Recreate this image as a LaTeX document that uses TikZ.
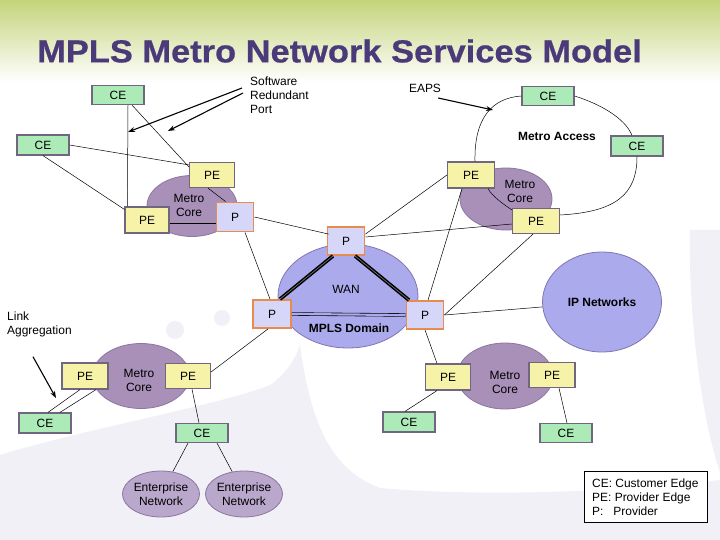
\documentclass[tikz,border=0pt]{standalone}
\usepackage{fontspec}
\setmainfont{Liberation Sans}
\newfontfamily\titlefont[FakeBold=0.6]{Liberation Sans Bold}
\usetikzlibrary{shapes.geometric,arrows.meta,calc}
\definecolor{cefill}{RGB}{172,234,184}
\definecolor{pefill}{RGB}{246,242,168}
\definecolor{pfill}{RGB}{214,214,248}
\definecolor{porange}{RGB}{230,140,80}
\definecolor{boxline}{RGB}{112,102,128}
\definecolor{corefill}{RGB}{168,144,184}
\definecolor{coreline}{RGB}{140,118,160}
\definecolor{wanfill}{RGB}{170,170,236}
\definecolor{wanline}{RGB}{128,116,176}
\definecolor{entfill}{RGB}{186,168,204}
\definecolor{titlecol}{RGB}{74,58,122}
\definecolor{bggreen}{RGB}{196,212,122}
\definecolor{bglav}{RGB}{242,240,247}
\tikzset{
  lbl/.style={font=\fontsize{12}{14}\selectfont, inner sep=0pt},
  ce/.style={lbl, draw=boxline, line width=1.2pt, fill=cefill, minimum width=52bp, minimum height=19bp},
  pe/.style={lbl, draw=boxline, line width=1.2pt, fill=pefill, minimum width=46bp, minimum height=26bp},
  pnode/.style={lbl, draw=porange, line width=1.8pt, fill=pfill, minimum width=37bp, minimum height=28bp},
  core/.style={ellipse, draw=coreline, line width=0.8pt, fill=corefill, inner sep=0pt},
  wan/.style={ellipse, draw=wanline, line width=0.8pt, fill=wanfill, inner sep=0pt},
  ent/.style={ellipse, draw=coreline, line width=0.8pt, fill=entfill, inner sep=0pt, minimum width=66bp, minimum height=46bp, align=center, font=\fontsize{12}{14}\selectfont},
  note/.style={lbl, align=left},
  link/.style={draw=black, line width=0.5pt},
  arr/.style={draw=black, line width=1.1pt, -{Stealth[length=7bp,width=5bp]}},
  trunk/.style={draw=black, line width=1.5pt, double=black!55, double distance=0.7pt},
  dlink/.style={draw=black, line width=0.6pt, double=wanfill, double distance=2.2pt},
}
\begin{document}
\begin{tikzpicture}[x=1bp,y=-1bp]
% background
\useasboundingbox (0,0) rectangle (720,540);
\fill[white] (0,0) rectangle (720,540);
\shade[top color=bggreen, bottom color=white] (0,0) rectangle (720,82);
\fill[bglav] (0,540) -- (0,455) .. controls (80,430) and (220,405) .. (270,385)
   .. controls (285,375) and (295,360) .. (300,345)
   .. controls (310,420) and (330,470) .. (380,488)
   .. controls (480,497) and (620,492) .. (720,480) -- (720,540) -- cycle;
\fill[bglav] (720,230) -- (720,472) .. controls (705,430) and (688,330) .. (690,230) -- cycle;
\fill[bglav] (175,330) circle (9);
\fill[bglav] (222,318) circle (8);

% title
\node[anchor=west, inner sep=0pt, text=titlecol, xscale=1.08, font=\fontsize{32}{36}\selectfont\titlefont] (title) at (37,51) {MPLS Metro Network Services Model};

% ellipses
\node[core, minimum width=90bp, minimum height=61bp] (core1) at (192,206) {};
\node[core, minimum width=92bp, minimum height=62bp] (core2) at (506,199) {};
\node[core, minimum width=97bp, minimum height=65bp] (core3) at (141,376) {};
\node[core, minimum width=96bp, minimum height=66bp] (core4) at (505,376) {};
\node[wan, minimum width=140bp, minimum height=104bp] (wan) at (348,296) {};
\node[wan, minimum width=119bp, minimum height=100bp] (ip) at (602,302) {};
\node[ent] (ent1) at (161,494) {Enterprise\\Network};
\node[ent] (ent2) at (244,494) {Enterprise\\Network};

% texts inside ellipses
\node[note, align=center] (core1t) at (189,205) {Metro\\Core};
\node[note, align=center] (core2t) at (520,191) {Metro\\Core};
\node[note, align=center] (core3t) at (139,380) {Metro\\Core};
\node[note, align=center] (core4t) at (505,382) {Metro\\Core};
\node[lbl] (want) at (346,289) {WAN};
\node[lbl, font=\fontsize{12}{14}\selectfont\bfseries] (mplst) at (349,328) {MPLS Domain};
\node[lbl, font=\fontsize{12}{14}\selectfont\bfseries] (ipt) at (602,302) {IP Networks};
\node[lbl, font=\fontsize{12}{14}\selectfont\bfseries] (acct) at (557,136) {Metro Access};

% boxes
\node[ce] (ce1) at (118,95) {CE};
\node[ce, minimum height=20bp] (ce2) at (43,145) {CE};
\node[ce] (ceTR) at (548,96) {CE};
\node[ce, minimum height=20bp] (ceR) at (637,146) {CE};
\node[ce, minimum height=20bp] (ce3) at (45,423) {CE};
\node[ce] (ce4) at (202,433) {CE};
\node[ce, minimum height=20bp] (ce5) at (409,422) {CE};
\node[ce] (ce6) at (566,433) {CE};

\node[pe, minimum width=45bp, minimum height=25bp] (pet) at (212,175) {PE};
\node[pe, minimum width=44bp] (pel) at (147,220) {PE};
\node[pe, minimum width=47bp] (pe2t) at (471,175) {PE};
\node[pe, minimum width=47bp, minimum height=25bp] (pe2r) at (536,221) {PE};
\node[pe] (pe3l) at (85,376) {PE};
\node[pe, minimum width=45bp, minimum height=25bp] (pe3r) at (188,376) {PE};
\node[pe, minimum width=45bp] (pe4l) at (448,377) {PE};
\node[pe, minimum height=25bp] (pe4r) at (552,375) {PE};

\node[pnode, minimum height=29bp] (pm) at (235,217) {P};
\node[pnode] (ptop) at (346,241) {P};
\node[pnode, minimum width=38bp] (pl) at (272,314) {P};
\node[pnode] (pr) at (425,315) {P};

% legend
\node[draw=black, line width=0.9pt, fill=white, minimum width=123bp, minimum height=51bp, inner sep=0pt] (legend) at (645.5,496.5) {};
\node[note, anchor=west] (legt) at (592,497) {CE: Customer Edge\\PE: Provider Edge\\P:\ \ \ Provider};

% annotations
\node[note, anchor=west] (swt) at (250,95) {Software\\Redundant\\Port};
\node[lbl] (eapst) at (425,88) {EAPS};
\node[note, anchor=west] (lat) at (7,324) {Link\\Aggregation};
\coordinate (sw1) at (128,132);
\coordinate (sw2) at (168,131);
\coordinate (eapsend) at (493,110);
\coordinate (laend) at (56,398);
\draw[arr] ($(swt.west)+(-8,-7)$) -- (sw1);
\draw[arr] ($(swt.west)+(-7,-2)$) -- (sw2);
\draw[arr] ($(eapst.east)+(-3,10)$) -- (eapsend);
\draw[arr] ($(lat.south west)+(26,20)$) -- (laend);

% links, top-left
\draw[link] ($(ce1.south)+(10,0)$) -- ($(pel.north west)+(3,0)$);
\draw[link] ($(ce1.south)+(14,0)$) -- ($(pet.north west)+(0,5)$);
\draw[link] (ce2.east) -- ($(pet.north west)+(0,3)$);
\draw[link] (ce2.south) -- ($(pel.north west)+(0,3)$);
\draw[link] ($(pet.south)+(-4,0)$) -- ($(pm.north west)+(10,0)$);
\draw[link] ($(pel.east)+(0,3)$) -- ($(pm.west)+(0,6)$);
\draw[link] (pm.east) -- ($(ptop.north west)+(2,8)$);
\draw[link] ($(pm.south)+(10,0)$) -- ($(pl.north)+(-2,0)$);

% links, top-right
\draw[link] (pe2t.west) -- ($(ptop.north east)+(0,8)$);
\draw[link] ($(pe2r.west)+(0,3)$) -- ($(ptop.east)+(0,-4)$);
\draw[link] ($(pe2t.south)+(-9,0)$) -- ($(pr.north)+(3,0)$);
\draw[link] ($(pe2r.south)+(-3,0)$) -- (pr.east);
\draw[link] (pr.east) -- (ip);

% metro access ring
\draw[link] (ceTR.west) .. controls (492,98) and (474,118) .. ($(pe2t.north)+(4,0)$);
\draw[link] (ceTR.east) .. controls (600,104) and (625,118) .. ($(ceR.north)+(-5,0)$);
\draw[link] (ceR.south) .. controls (637,195) and (615,212) .. ($(pe2r.east)+(0,-6)$);
\draw[link] ($(pe2t.south)+(17,0)$) .. controls (492,196) and (503,204) .. ($(pe2r.north west)+(0,2)$);

% WAN core links
\draw[trunk] ($(ptop.south)+(-13,0)$) -- ($(pl.north)+(8,0)$);
\draw[trunk] ($(ptop.south)+(9,0)$) -- ($(pr.north)+(-16,0)$);
\draw[dlink] (pl.east) -- (pr.west);

% links, bottom-left
\draw[link] ($(pl.south)+(-4,0)$) -- ($(pe3r.east)+(0,-4)$);
\draw[link] ($(pe3l.south)+(-5,0)$) -- ($(ce3.north)+(3,0)$);
\draw[link] ($(pe3l.south)+(11,0)$) -- ($(ce3.north)+(15,0)$);
\draw[link] ($(pe3r.south)+(4,0)$) -- ($(ce4.north)+(-3,0)$);
\draw[link] ($(ce4.south)+(-14,0)$) -- (ent1);
\draw[link] ($(ce4.south)+(15,0)$) -- (ent2);

% links, bottom-right
\draw[link] (pr.south) -- ($(pe4l.north)+(-11,0)$);
\draw[link] ($(pe4l.south)+(-11,0)$) -- ($(ce5.north)+(-4,0)$);
\draw[link] ($(pe4r.south)+(7,0)$) -- ($(ce6.north)+(1,0)$);
\end{tikzpicture}
\end{document}
